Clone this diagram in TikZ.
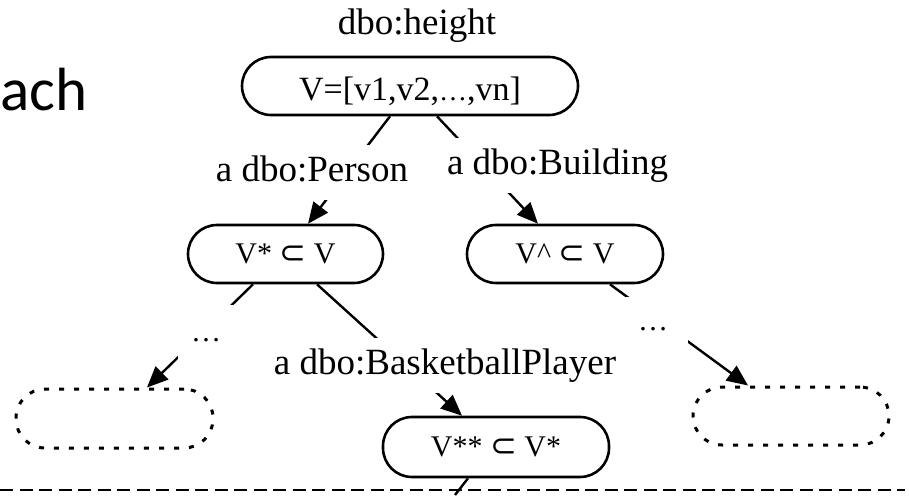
\documentclass[tikz,border=0pt]{standalone}
\usepackage{fontspec}
\setmainfont{Liberation Serif}
\newfontfamily\calib{Carlito}
\newfontfamily\symf{DejaVu Sans}
\usepackage{tikz}
\usetikzlibrary{arrows.meta,positioning,backgrounds}

\begin{document}
\begin{tikzpicture}[
    x=1pt,y=-1pt,
    st/.style   = {rectangle,rounded corners=29pt,draw,line width=2.6pt,fill=white,
                   inner sep=0pt,minimum width=196pt,minimum height=58pt,
                   font=\fontsize{30}{32}\selectfont,text height=24pt,text depth=6pt},
    stub/.style = {st,dash pattern=on 5pt off 10pt,line width=3pt},
    lbl/.style  = {fill=white,inner xsep=4pt,inner ysep=9pt,
                   font=\fontsize{37}{40}\selectfont,text height=28pt,text depth=9pt},
    dts/.style  = {lbl,inner sep=0pt,minimum width=56pt,minimum height=55pt,
                   font=\fontsize{30}{32}\selectfont},
    cn/.style   = {line width=2.4pt},
    ca/.style   = {cn,-{Triangle[length=21pt,width=18pt]}},
  ]
  \useasboundingbox (0,0) rectangle (909,495);

  \node[anchor=base west,inner sep=0pt,font=\calib\fontsize{61}{66}\selectfont] (ach) at (0,110) {ach};

  % tree of value sets
  \node[font=\fontsize{37}{40}\selectfont,anchor=base] (prop) at (417,35) {dbo:height};
  \node[st,minimum width=336pt,font=\fontsize{34}{36}\selectfont,
        text height=31pt,text depth=3pt] (root) at (410,86)
        {V=[v1,v2,{\fontsize{28}{30}\selectfont …},vn]};

  \node[st,minimum width=195pt] (vstar) at (285.5,254) {V* {\symf\fontsize{32}{32}\selectfont ⊂} V};
  \node[st] (vhat) at (565,254) {V\textasciicircum{} {\symf\fontsize{32}{32}\selectfont ⊂} V};
  \node[st,minimum width=226pt,minimum height=60pt] (vss) at (496,447) {V** {\symf\fontsize{32}{32}\selectfont ⊂} V*};

  \node[stub,minimum width=197pt,minimum height=59pt] (lfree) at (114.5,418.5) {};
  \node[stub] (rfree) at (791,416) {};

  \node[lbl] (lperson) at (312,172) {a dbo:Person};
  \node[lbl] (lbuild)  at (557.5,165) {a dbo:Building};
  \node[lbl] (lbasket) at (445,365) {a dbo:BasketballPlayer};
  \node[dts] (ldotsl) at (206,332) {…};
  \node[dts,minimum width=70pt,minimum height=48pt] (ldotsr) at (653,321) {…};

  \coordinate (vssout) at (455,495);

  \begin{scope}[on background layer]
    \draw[ca] ([xshift=-20pt]root.south)   -- ([xshift=22.5pt]vstar.north);
    \draw[ca] ([xshift=27pt]root.south)    -- ([xshift=-27pt]vhat.north);
    \draw[ca] ([xshift=-32.5pt]vstar.south) -- ([xshift=32.5pt]lfree.north);
    \draw[ca] ([xshift=31.5pt]vstar.south) -- ([xshift=-34pt]vss.north);
    \draw[ca] ([xshift=45pt]vhat.south)    -- ([xshift=-43pt]rfree.north);
    \draw[cn] ([xshift=-28pt]vss.south)    -- (vssout);
  \end{scope}

  \draw[line width=2pt,dash pattern=on 13pt off 6.5pt] (0,490) -- (905,490);

\end{tikzpicture}
\end{document}
